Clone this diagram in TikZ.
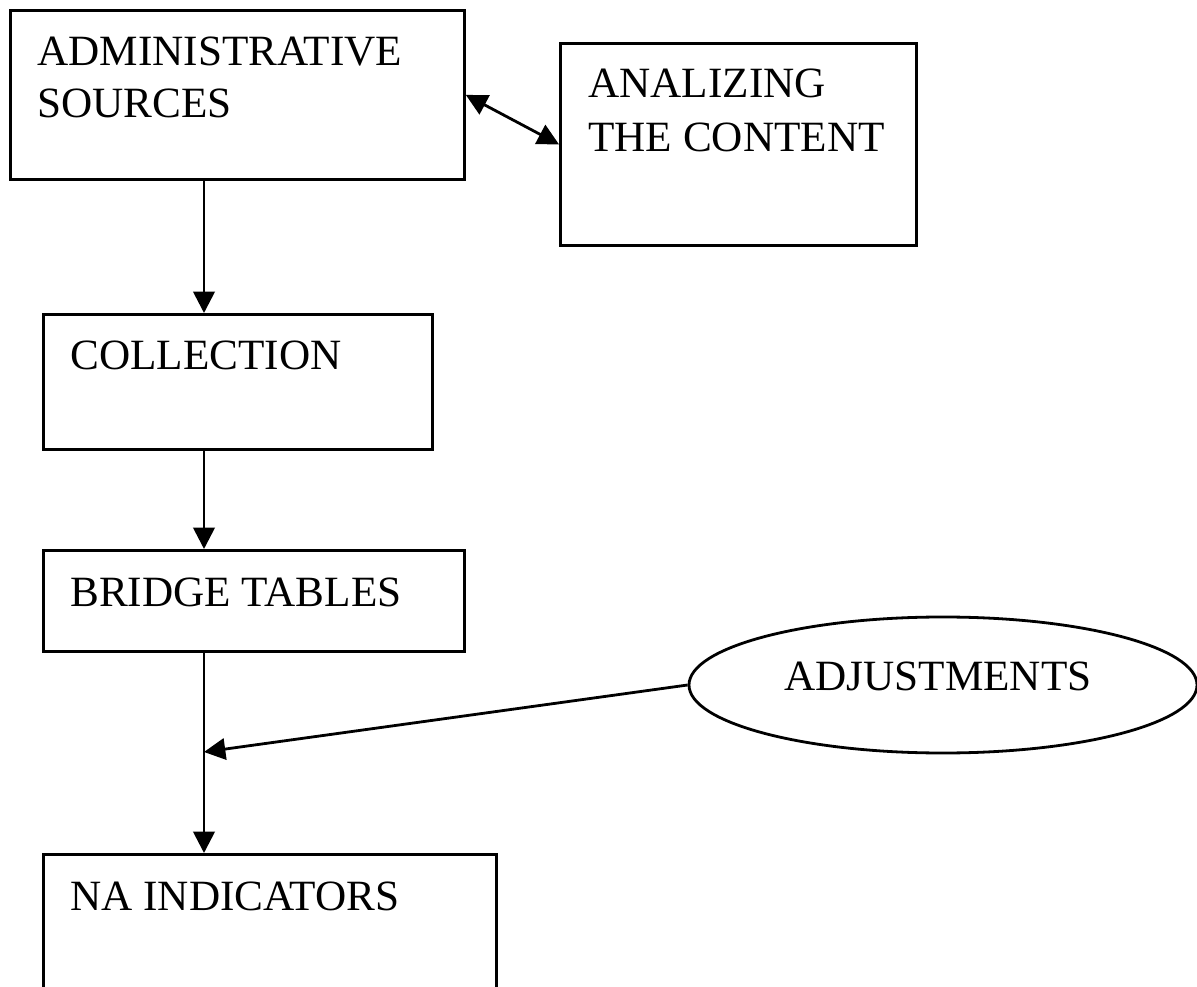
\documentclass[tikz,border=0pt]{standalone}
\usepackage{fontspec}
\setmainfont{Liberation Serif}
\usetikzlibrary{arrows.meta,shapes.geometric}
\begin{document}
\begin{tikzpicture}[x=0.75pt,y=-0.75pt,
  box/.style={draw, line width=2.1pt, rectangle, inner sep=0pt, anchor=north west},
  oval/.style={draw, line width=2.1pt, ellipse, inner sep=0pt},
  lbl/.style={anchor=base west, inner sep=0pt, font=\fontsize{32.4}{38}\selectfont},
  arr/.style={line width=2.1pt, -{Triangle[length=16pt,width=16pt]}},
  darr/.style={line width=2.1pt, {Triangle[length=16pt,width=16pt]}-{Triangle[length=16pt,width=16pt]}}]
\useasboundingbox (0,0) rectangle (1197,987);
\clip (0,0) rectangle (1197,987);
\fill[white] (0,0) rectangle (1197,987);

\node[box, minimum width=340.5pt, minimum height=126.75pt] (admin) at (9,9) {};
\node[box, minimum width=267pt, minimum height=151.5pt] (anal) at (559,42) {};
\node[box, minimum width=291.75pt, minimum height=101.25pt] (coll) at (42,313) {};
\node[box, minimum width=315.75pt, minimum height=75.75pt] (bridge) at (42,549) {};
\node[box, minimum width=339.75pt, minimum height=120pt] (na) at (42,853) {};
\node[oval, minimum width=381pt, minimum height=102pt] (adj) at (943,685) {};

\node[lbl] (t1a) at (37,66) {ADMINISTRATIVE};
\node[lbl] (t1b) at (37,118) {SOURCES};
\node[lbl] (t2a) at (588,98) {ANALIZING};
\node[lbl] (t2b) at (588,152) {THE CONTENT};
\node[lbl] (t3) at (70,370) {COLLECTION};
\node[lbl] (t4) at (70,607) {BRIDGE TABLES};
\node[lbl] (t5) at (70,910) {NA INDICATORS};
\node[lbl, anchor=base] (t6) at (938,691) {ADJUSTMENTS};

\coordinate (spine) at (204,0);
\coordinate (join) at (204,752);

\draw[darr] (admin.east) -- (anal.west);
\draw[arr] (admin.south -| spine) -- (coll.north -| spine);
\draw[arr] (coll.south -| spine) -- (bridge.north -| spine);
\draw[arr] (bridge.south -| spine) -- (na.north -| spine);
\draw[arr] (adj.west) -- (join);
\end{tikzpicture}
\end{document}
